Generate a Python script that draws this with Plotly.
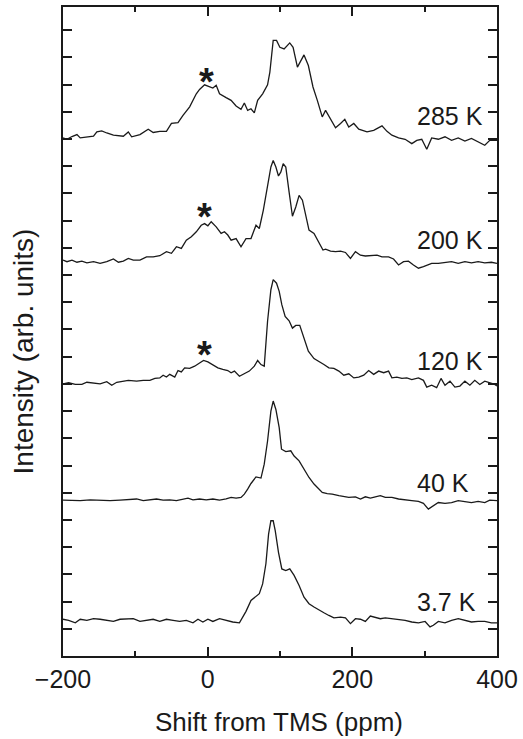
import plotly.graph_objects as go

# ---- data: shift (ppm) and intensity relative to each spectrum's baseline (tick units) ----
x_285 = [-200, -194.5, -187.6, -180.7, -176.2, -167.0, -157.8, -153.2, -146.4, -139.5, -130.3, -116.6, -109.7, -105.1, -93.6, -82.2, -75.3, -66.2, -57.0, -50.1, -41.0, -34.1, -24.9, -15.7, -11.2, -4.3, 2.6, 7.2, 11.8, 16.4, 25.5, 32.4, 39.3, 46.1, 50.7, 55.3, 59.9, 64.5, 69.1, 76.0, 82.8, 86.0, 90.6, 95.2, 99.8, 105.7, 113.5, 118.1, 124.1, 128.7, 133.2, 139.2, 145.6, 151.6, 158.4, 163.0, 169.9, 176.8, 183.7, 189.6, 195.1, 202.0, 208.9, 220.3, 229.5, 241.0, 247.9, 254.7, 263.9, 273.0, 282.2, 289.1, 296.0, 302.9, 309.7, 318.9, 328.1, 337.2, 346.4, 355.6, 364.7, 373.9, 383.1, 390.0, 400.0]
y_285 = [0.00, -0.05, 0.05, 0.12, 0.00, 0.04, 0.06, 0.22, 0.26, 0.18, 0.10, 0.06, 0.22, 0.04, 0.12, 0.32, 0.20, 0.24, 0.24, 0.53, 0.56, 0.83, 1.14, 1.62, 1.78, 1.95, 1.87, 1.83, 1.93, 1.62, 1.48, 1.38, 1.17, 1.05, 1.28, 1.01, 1.07, 0.92, 1.38, 1.62, 1.95, 2.42, 3.58, 3.58, 3.33, 3.27, 3.49, 3.33, 2.60, 2.81, 3.05, 2.66, 1.87, 1.38, 0.77, 1.01, 0.68, 0.37, 0.53, 0.68, 0.40, 0.53, 0.32, 0.22, 0.28, 0.44, 0.24, 0.10, 0.00, -0.05, -0.21, -0.09, -0.05, -0.42, 0.00, -0.05, 0.04, -0.09, 0.00, -0.12, -0.02, -0.15, -0.27, -0.09, -0.09]

x_200 = [-200, -194.5, -187.6, -180.7, -173.9, -167.0, -157.8, -148.7, -139.5, -130.3, -123.4, -116.6, -109.7, -102.8, -93.6, -84.5, -75.3, -66.2, -57.0, -50.1, -43.2, -36.4, -29.5, -22.6, -15.7, -8.9, -4.3, 0.3, 4.9, 11.8, 18.6, 23.2, 27.8, 32.4, 39.3, 46.1, 53.0, 59.9, 66.8, 71.4, 76.9, 82.8, 87.4, 90.6, 94.3, 97.9, 101.2, 104.4, 108.0, 112.6, 117.2, 121.8, 126.4, 131.0, 135.5, 140.1, 147.0, 153.9, 159.4, 163.0, 169.9, 176.8, 183.7, 190.5, 197.4, 204.3, 211.2, 218.0, 224.9, 234.1, 241.0, 250.1, 257.0, 263.9, 270.8, 277.6, 284.5, 291.4, 298.3, 309.7, 318.9, 328.1, 337.2, 346.4, 355.6, 364.7, 373.9, 383.1, 392.2, 400.0]
y_200 = [0.06, 0.00, 0.06, -0.02, 0.02, -0.04, 0.00, -0.06, 0.00, 0.10, -0.02, 0.02, 0.12, 0.06, 0.06, 0.18, 0.18, 0.22, 0.37, 0.31, 0.55, 0.49, 0.79, 0.92, 1.10, 1.34, 1.40, 1.32, 1.47, 1.28, 1.04, 1.10, 0.98, 0.79, 0.85, 0.55, 0.85, 0.85, 1.34, 1.22, 1.89, 2.75, 3.48, 3.72, 3.48, 3.15, 3.30, 3.60, 3.48, 2.56, 1.67, 2.01, 2.44, 2.26, 1.77, 1.16, 1.04, 0.73, 0.43, 0.46, 0.39, 0.37, 0.39, 0.34, 0.12, 0.37, 0.24, 0.21, 0.22, 0.24, 0.18, 0.18, 0.10, -0.12, 0.00, 0.02, -0.12, -0.24, -0.18, -0.06, -0.06, -0.02, 0.00, -0.06, 0.00, -0.04, 0.00, -0.04, -0.02, -0.06]

x_120 = [-200, -192.2, -183.0, -173.9, -167.0, -157.8, -148.7, -139.5, -132.6, -125.7, -118.9, -109.7, -98.2, -89.1, -79.9, -73.0, -66.2, -61.6, -57.0, -52.4, -45.5, -41.0, -36.4, -31.8, -24.9, -18.0, -11.2, -5.7, 0.3, 7.2, 14.1, 20.9, 27.8, 32.4, 37.0, 43.9, 50.7, 57.6, 64.5, 69.1, 73.7, 78.2, 82.8, 87.4, 90.6, 95.2, 98.9, 102.5, 107.1, 112.6, 117.2, 121.8, 127.3, 133.2, 139.2, 147.0, 153.9, 160.7, 167.6, 174.5, 181.4, 188.2, 195.1, 202.0, 208.9, 215.8, 222.6, 229.5, 236.4, 243.3, 250.1, 254.7, 261.6, 268.5, 275.3, 282.2, 291.4, 298.3, 302.9, 309.7, 316.6, 322.6, 328.1, 335.0, 341.8, 348.7, 355.6, 362.5, 369.3, 376.2, 383.1, 390.0, 396.8, 400.0]
y_120 = [-0.04, 0.00, -0.06, -0.06, 0.02, 0.00, -0.04, 0.04, -0.09, 0.02, 0.06, 0.09, 0.06, 0.09, 0.09, 0.16, 0.18, 0.28, 0.21, 0.31, 0.21, 0.45, 0.40, 0.55, 0.53, 0.61, 0.73, 0.82, 0.77, 0.67, 0.55, 0.49, 0.45, 0.37, 0.43, 0.24, 0.33, 0.43, 0.61, 0.82, 0.67, 0.61, 2.26, 3.42, 3.79, 3.66, 3.36, 2.87, 2.44, 2.28, 2.01, 2.11, 2.11, 1.65, 1.16, 0.89, 0.79, 0.67, 0.55, 0.53, 0.43, 0.28, 0.33, 0.18, 0.21, 0.28, 0.45, 0.31, 0.43, 0.37, 0.43, 0.18, 0.21, 0.16, 0.18, 0.12, 0.18, 0.09, -0.16, -0.09, -0.18, 0.16, -0.09, 0.06, -0.16, -0.12, 0.06, -0.09, 0.09, -0.06, 0.06, 0.00, -0.06, -0.12]

x_40 = [-200, -189.9, -176.2, -162.4, -148.7, -134.9, -121.2, -107.4, -98.2, -89.1, -79.9, -70.7, -61.6, -52.4, -43.2, -34.1, -27.2, -20.3, -11.2, -2.0, 7.2, 16.4, 25.5, 32.4, 39.3, 46.1, 50.7, 55.3, 59.9, 66.8, 73.7, 78.2, 82.8, 87.4, 90.6, 94.3, 98.9, 102.1, 108.0, 114.9, 119.5, 126.4, 133.2, 140.1, 147.0, 153.9, 158.4, 165.3, 172.2, 181.4, 188.2, 195.1, 204.3, 211.2, 218.0, 224.9, 231.8, 238.7, 245.6, 254.7, 263.9, 273.0, 282.2, 291.4, 298.3, 305.1, 312.0, 318.9, 328.1, 337.2, 346.4, 355.6, 364.7, 373.9, 383.1, 390.0, 400.0]
y_40 = [0.00, -0.02, -0.02, 0.01, 0.00, -0.02, 0.00, 0.01, 0.04, -0.02, 0.00, 0.04, 0.00, 0.01, -0.02, 0.04, 0.07, 0.01, 0.04, 0.01, 0.04, 0.00, 0.04, 0.10, 0.07, 0.10, 0.22, 0.40, 0.61, 0.85, 0.81, 1.32, 2.17, 3.27, 3.64, 3.33, 2.66, 1.87, 1.78, 1.81, 1.62, 1.44, 1.14, 0.83, 0.59, 0.40, 0.28, 0.24, 0.22, 0.16, 0.12, 0.10, 0.12, 0.04, 0.12, 0.07, 0.12, 0.16, 0.10, 0.10, 0.04, 0.00, -0.02, -0.05, -0.12, -0.33, -0.21, -0.09, -0.12, -0.09, -0.02, -0.05, -0.09, -0.05, -0.09, 0.00, -0.02]

x_3p7 = [-200, -192.2, -183.0, -176.2, -167.0, -157.8, -148.7, -139.5, -130.3, -121.2, -112.0, -102.8, -93.6, -84.5, -75.3, -66.2, -57.0, -47.8, -38.7, -29.5, -20.3, -13.4, -6.6, 0.3, 7.2, 16.4, 25.5, 34.7, 43.9, 48.4, 53.0, 59.9, 64.5, 71.4, 76.0, 80.5, 84.2, 87.4, 90.6, 93.4, 97.9, 102.5, 108.0, 113.5, 119.5, 126.4, 133.2, 140.1, 147.0, 153.9, 160.7, 167.6, 174.5, 183.7, 190.5, 197.4, 204.3, 211.2, 218.0, 224.9, 231.8, 238.7, 245.6, 254.7, 263.9, 273.0, 282.2, 291.4, 300.6, 307.4, 312.0, 318.9, 328.1, 337.2, 346.4, 355.6, 364.7, 373.9, 383.1, 392.2, 400.0]
y_3p7 = [0.04, 0.00, -0.09, 0.04, 0.00, 0.06, 0.04, 0.00, -0.04, 0.04, 0.04, 0.06, -0.04, 0.00, 0.04, -0.04, 0.04, 0.00, -0.04, 0.00, -0.09, 0.04, -0.06, 0.04, -0.04, 0.06, 0.00, -0.06, -0.09, 0.12, 0.33, 0.73, 0.82, 0.98, 1.34, 2.08, 3.17, 3.66, 3.66, 3.30, 2.50, 1.89, 1.83, 1.89, 1.65, 1.28, 0.85, 0.61, 0.49, 0.37, 0.28, 0.18, 0.09, 0.12, 0.09, -0.12, 0.06, 0.04, -0.04, 0.16, 0.12, 0.06, 0.09, 0.06, 0.04, 0.00, -0.06, -0.09, -0.04, -0.24, -0.18, -0.04, -0.09, 0.00, 0.06, 0.00, -0.06, -0.04, -0.04, -0.09, -0.09]

temperatures = ["285 K", "200 K", "120 K", "40 K", "3.7 K"]
baselines = [19.04, 14.49, 10.04, 5.73, 1.31]
label_y = [19.83, 15.30, 10.83, 6.34, 1.98]
star_x = [-2, -4, -4]
star_y = [21.10, 16.15, 11.05]

xs = [x_285, x_200, x_120, x_40, x_3p7]
ys = [y_285, y_200, y_120, y_40, y_3p7]

FONT = "Liberation Sans, Arial, sans-serif"
INK = "#1a1a1a"

fig = go.Figure()
for name, xv, yv, b in zip(temperatures, xs, ys, baselines):
    fig.add_trace(go.Scatter(x=xv, y=[v + b for v in yv], mode="lines",
                             line=dict(color=INK, width=1.3), name=name,
                             showlegend=False, hoverinfo="skip"))

for t, ly in zip(temperatures, label_y):
    fig.add_annotation(x=287, y=ly, text=t, showarrow=False, xanchor="left",
                       yanchor="middle", font=dict(family=FONT, size=25, color=INK))

for sx, sy in zip(star_x, star_y):
    fig.add_annotation(x=sx, y=sy, text="<b>*</b>", showarrow=False, xanchor="center",
                       yanchor="middle", font=dict(family=FONT, size=38, color=INK))

fig.add_annotation(xref="paper", yref="paper", x=-0.0917, y=0.4696,
                   text="Intensity (arb. units)", textangle=-90, showarrow=False,
                   xanchor="center", yanchor="middle",
                   font=dict(family=FONT, size=28, color=INK))
fig.add_annotation(xref="paper", yref="paper", x=0.497, y=-0.1018,
                   text="Shift from TMS (ppm)", showarrow=False,
                   xanchor="center", yanchor="middle",
                   font=dict(family=FONT, size=26, color=INK))

fig.update_xaxes(range=[-200, 400], tick0=-200, dtick=200, ticks="inside", ticklen=9,
                 tickwidth=1.5, tickcolor=INK, showline=True, linewidth=2, linecolor=INK,
                 mirror="ticks", showgrid=False, zeroline=False,
                 tickfont=dict(family=FONT, size=25, color=INK),
                 minor=dict(dtick=100, tick0=-200, ticks="inside", ticklen=5,
                            tickwidth=1.5, tickcolor=INK, showgrid=False))
fig.update_yaxes(range=[0, 23.85], tick0=0, dtick=1, ticks="inside", ticklen=9,
                 tickwidth=1.5, tickcolor=INK, showline=True, linewidth=2, linecolor=INK,
                 mirror="ticks", showgrid=False, zeroline=False, showticklabels=False)

fig.update_layout(width=523, height=739, margin=dict(l=63, r=24, t=5, b=83),
                  paper_bgcolor="white", plot_bgcolor="white", showlegend=False)

fig.write_html("out.html", config={"displayModeBar": False},
               post_script="document.body.style.margin='0';")
